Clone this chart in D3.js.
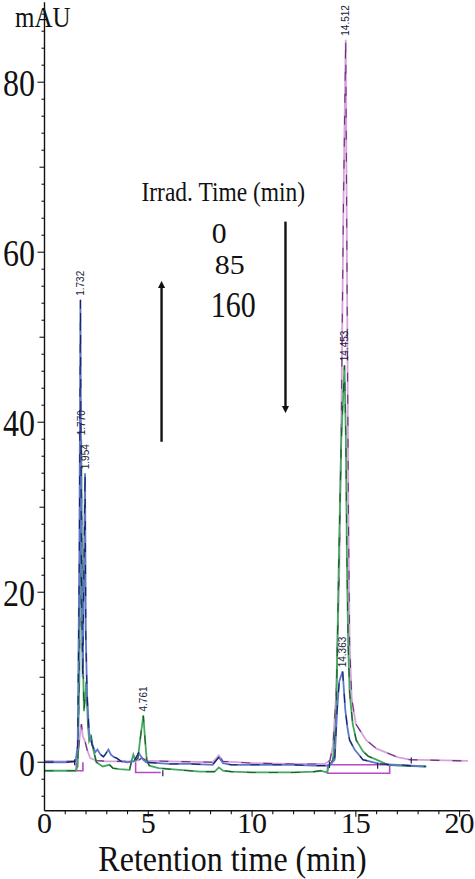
<!DOCTYPE html>
<html>
<head>
<meta charset="utf-8">
<script src="https://cdn.jsdelivr.net/npm/d3@7"></script>
<style>
  html, body { margin: 0; padding: 0; background: #fff; }
  svg { display: block; }
</style>
</head>
<body>
<svg id="chart" width="475" height="879"></svg>
<script>
// ---------- DATA ----------
const xMajorTicks = [0, 5, 10, 15, 20];
const yLabelTicks = [0, 20, 40, 60, 80];
const irradTimes = ["0", "85", "160"];

// 0 min irradiation (pink / mauve)
const trace0 = [[0,0.1],[1.5,0.1],[1.6,0.5],[1.7,3],[1.78,4.5],[1.85,3],[1.95,2.5],[2.05,1.5],[2.2,0.5],[2.5,0.2],[3,0.1],[4,0.1],[4.5,0.2],[4.7,0.5],[4.9,0.2],[6,0.1],[8.1,0],[8.4,0.8],[8.6,0.1],[10,-0.1],[12,-0.2],[13.5,-0.2],[13.75,0.2],[13.9,2],[14.05,8],[14.2,22],[14.3,40],[14.4,65],[14.512,85],[14.58,55],[14.64,30],[14.7,14],[14.8,7.5],[15.0,4.5],[15.5,2.6],[16.0,1.6],[16.5,1.1],[17.0,0.6],[17.6,0.3],[20.4,0.15]];

// 85 min irradiation (green)
const trace85 = [[0,-1.0],[1.5,-1.0],[1.6,-0.5],[1.68,10],[1.77,38],[1.83,15],[1.9,6],[1.97,8],[2.02,9.5],[2.08,5],[2.15,2.5],[2.25,3],[2.35,1.5],[2.5,0],[2.8,-0.5],[3.13,-0.3],[3.3,-0.7],[3.6,-0.8],[4.1,-0.9],[4.2,0.2],[4.28,0.9],[4.38,0.2],[4.5,0.5],[4.6,2.5],[4.761,5.5],[4.85,2.5],[4.93,0.2],[5.05,-0.4],[5.5,-0.7],[6.5,-0.9],[7.5,-1.1],[8.2,-1.1],[8.4,-0.6],[8.6,-1.0],[9,-1.1],[10,-1.2],[11,-1.2],[12,-1.2],[13,-1.1],[13.3,-1.0],[13.6,-1.2],[13.7,-0.5],[13.9,0.3],[14.05,5],[14.18,23.8],[14.3,38],[14.453,46.7],[14.52,38],[14.57,23.8],[14.63,14],[14.7,8.2],[14.85,4.5],[15.02,2.6],[15.34,1.3],[15.6,0.7],[15.99,0.3],[16.53,-0.3],[17,-0.4],[18.4,-0.5]];

// 160 min irradiation (blue)
const trace160 = [[0,0],[1.0,0],[1.5,0.1],[1.6,2],[1.68,25],[1.732,54.4],[1.78,22],[1.84,10],[1.954,34],[1.99,15],[2.05,8],[2.15,3.5],[2.3,2],[2.45,1.2],[2.55,1.5],[2.7,0.9],[2.84,0.65],[2.95,1.0],[3.08,1.5],[3.2,0.9],[3.35,0.6],[3.47,0.5],[3.7,0.1],[4.0,0],[4.3,0.1],[4.45,0.7],[4.53,1.1],[4.62,0.8],[4.75,0.3],[4.9,0],[5.5,-0.1],[6,-0.2],[7,-0.2],[8.1,-0.3],[8.4,0.6],[8.6,-0.1],[9,-0.3],[10,-0.3],[11,-0.3],[12,-0.3],[13,-0.4],[13.6,-0.4],[13.8,-0.2],[13.98,0.3],[14.1,6.2],[14.2,9.5],[14.363,10.7],[14.49,6.2],[14.6,4],[14.7,2.6],[14.94,1.5],[15.34,0.3],[16.14,-0.2],[17,-0.3],[18.36,-0.5]];

// integration baselines (magenta)
const baselines = [
  [[1.53,0],[1.53,-1.0],[1.85,-1.0],[1.85,0]],
  [[4.39,0],[4.39,-1.2],[5.6,-1.2]],
  [[13.64,-0.3],[16.63,-0.3],[16.63,-1.3],[13.64,-1.3],[13.64,-0.3]]
];
// integration event marks
const eventMarks = [[1.45,0],[5.7,-1.3],[13.73,-0.3],[16.05,-0.4],[17.67,0.2]];

// peak labels
const peakLabels = [
  {t:1.732, v:54.4, label:"1.732"},
  {t:1.770, v:38,   label:"1.770"},
  {t:1.954, v:34,   label:"1.954"},
  {t:4.761, v:5.5,  label:"4.761"},
  {t:14.512,v:85,   label:"14.512"},
  {t:14.453,v:46.7, label:"14.453"},
  {t:14.363,v:10.7, label:"14.363"}
];

// annotation arrows [time, fromValue, toValue]
const arrows = [[5.64, 37.7, 56.2], [11.61, 63.6, 41.5]];

// ---------- CHART ----------
const svg = d3.select("#chart");
const x = d3.scaleLinear().domain([0, 20.5]).range([44.5, 470]);
const y = d3.scaleLinear().domain([-5.7, 89.4]).range([810.7, 2.3]);

const serif = "Liberation Serif, Times New Roman, serif";
function sText(g, px, py, txt, size, anchor, sy, sx = 1) {
  return g.append("text")
    .attr("transform", `translate(${px},${py}) scale(${sx},${sy})`)
    .attr("text-anchor", anchor)
    .style("font-family", serif)
    .attr("font-size", size)
    .attr("fill", "#111")
    .text(txt);
}

const line = d3.line().x(d => x(d[0])).y(d => y(d[1]));

// baselines
svg.append("g").selectAll("path").data(baselines).join("path")
  .attr("d", line).attr("fill", "none")
  .attr("stroke", "#b44ac4").attr("stroke-width", 1.6);

// traces: light solid + darker dashed overlay
const traces = [
  {data: trace0,   light: "#d7a3da", dark: "#6b2f7f"},
  {data: trace85,  light: "#45a860", dark: "#1d5a2c"},
  {data: trace160, light: "#5d78c8", dark: "#1b1f5e"}
];
traces.forEach(tr => {
  svg.append("path").datum(tr.data).attr("d", line)
    .attr("fill", "none").attr("stroke", tr.light).attr("stroke-width", 1.8);
  svg.append("path").datum(tr.data).attr("d", line)
    .attr("fill", "none").attr("stroke", tr.dark).attr("stroke-width", 1.1)
    .attr("stroke-dasharray", "9 13");
});

// event marks
svg.append("g").selectAll("line").data(eventMarks).join("line")
  .attr("x1", d => x(d[0])).attr("x2", d => x(d[0]))
  .attr("y1", d => y(d[1]) - 3).attr("y2", d => y(d[1]) + 3)
  .attr("stroke", "#1b1f5e").attr("stroke-width", 1.2);

// peak labels
svg.append("g").selectAll("text").data(peakLabels).join("text")
  .attr("transform", d => `translate(${x(d.t) + 3.5},${y(d.v) - 4}) rotate(-90)`)
  .style("font-family", "Liberation Sans, Arial, sans-serif")
  .attr("font-size", 10)
  .attr("fill", "#1a1a3a")
  .text(d => d.label);

// axes
const axG = svg.append("g").attr("stroke", "#111").attr("stroke-width", 1.4);
axG.append("line").attr("x1", x(0)).attr("x2", x(0)).attr("y1", y(-5.7)).attr("y2", y(89.4));
axG.append("line").attr("x1", x(0)).attr("x2", x(20.5)).attr("y1", y(-5.7)).attr("y2", y(-5.7));

// y ticks
const yMinor = d3.range(-4, 89, 2);
axG.selectAll(".yt").data(yMinor).join("line")
  .attr("x1", d => x(0) - (d % 20 === 0 ? 7 : d % 10 === 0 ? 5 : 3))
  .attr("x2", x(0))
  .attr("y1", d => y(d)).attr("y2", d => y(d))
  .attr("stroke-width", 1.1);
// x ticks
const xMinor = d3.range(1, 21, 1);
axG.selectAll(".xt").data(xMinor).join("line")
  .attr("x1", d => x(d)).attr("x2", d => x(d))
  .attr("y1", y(-5.7)).attr("y2", d => y(-5.7) + (d % 5 === 0 ? 6 : 3.5))
  .attr("stroke-width", 1.1);

const lab = svg.append("g");
yLabelTicks.forEach(v => sText(lab, 35, y(v) + 13.5, String(v), 32, "end", 1.18));
xMajorTicks.forEach(t => sText(lab, x(t), 833, String(t), 30, "middle", 1.0));
sText(lab, 232.5, 871, "Retention time (min)", 32, "middle", 1.1);
sText(lab, 15, 27, "mAU", 25, "start", 1.18);

// legend annotation
sText(lab, x(4.67), y(66.0), "Irrad. Time (min)", 23.5, "start", 1.18);
const legPos = [[8.41, 61.1], [8.92, 57.4], [9.09, 52.4]];
const legSize = [[27, 1.1, 1.1], [28, 1.0, 1.07], [30, 1.18, 1.0]];
irradTimes.forEach((s, i) => sText(lab, x(legPos[i][0]), y(legPos[i][1]), s,
  legSize[i][0], "middle", legSize[i][1], legSize[i][2]));

// arrows
const defs = svg.append("defs");
defs.append("marker").attr("id", "ah").attr("viewBox", "0 0 10 10")
  .attr("refX", 5).attr("refY", 5).attr("markerWidth", 3).attr("markerHeight", 3.5)
  .attr("orient", "auto")
  .append("path").attr("d", "M0,0 L10,5 L0,10 Z").attr("fill", "#111");
svg.append("g").selectAll("line").data(arrows).join("line")
  .attr("x1", d => x(d[0])).attr("x2", d => x(d[0]))
  .attr("y1", d => y(d[1])).attr("y2", d => y(d[2]))
  .attr("stroke", "#111").attr("stroke-width", 2.4)
  .attr("marker-end", "url(#ah)");
</script>
</body>
</html>
